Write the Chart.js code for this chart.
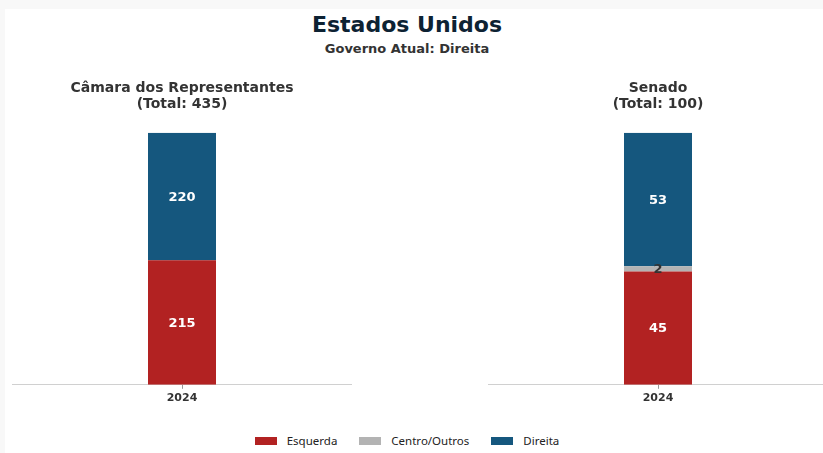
<!DOCTYPE html>
<html lang="pt">
<head>
<meta charset="utf-8">
<script src="https://cdn.jsdelivr.net/npm/chart.js@4"></script>
<style>
  html, body { margin: 0; padding: 0; overflow: hidden; }
  body { width: 823px; height: 453px; background: #f8f8f8; position: relative; font-family: "DejaVu Sans", sans-serif; }
  #panel { position: absolute; left: 5px; top: 9px; right: 0; bottom: 0; background: #fff; }
  .center { position: absolute; left: 0; width: 814px; text-align: center; }
  #titulo { top: 12px; font-size: 22px; font-weight: bold; color: #0d2233; }
  #subtitulo { top: 41px; font-size: 13px; font-weight: bold; color: #333; }
  canvas { position: absolute; }
  #legenda { top: 433px; display: flex; justify-content: center; gap: 22px; font-family: "Noto Sans", sans-serif; font-size: 11.5px; color: #222; }
  #legenda span.item { display: flex; align-items: center; }
  #legenda span.box { display: inline-block; width: 22px; height: 8px; margin-right: 10px; }
</style>
</head>
<body>
<div id="panel"></div>
<div id="titulo" class="center">Estados Unidos</div>
<div id="subtitulo" class="center">Governo Atual: Direita</div>
<canvas id="camara" width="340" height="331" style="left:12px; top:77px;"></canvas>
<canvas id="senado" width="340" height="331" style="left:488px; top:77px;"></canvas>
<div id="legenda" class="center"></div>
<script>
const anos = ['2024'];
const partidos = ['Esquerda', 'Centro/Outros', 'Direita'];
const cores = ['#b22222', '#b3b3b3', '#15577e'];
const corRotulo = ['#ffffff', '#333333', '#ffffff'];

const camaraAssentos = [215, 0, 220];
const camaraTotal = 435;
const senadoAssentos = [45, 2, 53];
const senadoTotal = 100;

// escreve o número de assentos no meio de cada segmento
const rotulosValores = {
  id: 'rotulosValores',
  afterDatasetsDraw(chart) {
    const ctx = chart.ctx;
    ctx.save();
    ctx.font = 'bold 13px "DejaVu Sans"';
    ctx.textAlign = 'center';
    ctx.textBaseline = 'middle';
    chart.data.datasets.forEach((ds, i) => {
      const meta = chart.getDatasetMeta(i);
      meta.data.forEach((bar, j) => {
        const v = ds.data[j];
        if (!v) return;
        ctx.fillStyle = corRotulo[i];
        ctx.fillText(String(v), bar.x, (bar.y + bar.base) / 2 + 1);
      });
    });
    ctx.restore();
  }
};

function criarGrafico(id, titulo, valores, total) {
  return new Chart(document.getElementById(id), {
    type: 'bar',
    data: {
      labels: anos,
      datasets: partidos.map((nome, i) => ({
        label: nome,
        data: [valores[i]],
        backgroundColor: cores[i],
        borderWidth: 0,
        categoryPercentage: 1,
        barPercentage: 0.2
      }))
    },
    options: {
      responsive: false,
      animation: false,
      layout: { padding: 0 },
      plugins: {
        legend: { display: false },
        tooltip: { enabled: false },
        title: {
          display: true,
          text: titulo,
          color: '#333',
          font: { family: 'DejaVu Sans', size: 14, weight: 'bold', lineHeight: 1.1 },
          padding: { top: 4, bottom: 21 }
        }
      },
      scales: {
        x: {
          stacked: true,
          grid: { display: true, drawOnChartArea: false, offset: false, tickLength: 4, color: '#999' },
          border: { display: true, color: '#d0d0d0' },
          ticks: { color: '#333', padding: 3, font: { family: 'DejaVu Sans', size: 11, weight: 'bold' } }
        },
        y: { stacked: true, display: false, min: 0, max: total }
      }
    },
    plugins: [rotulosValores]
  });
}

criarGrafico('camara', ['Câmara dos Representantes', '(Total: ' + camaraTotal + ')'], camaraAssentos, camaraTotal);
criarGrafico('senado', ['Senado', '(Total: ' + senadoTotal + ')'], senadoAssentos, senadoTotal);

// legenda comum aos dois gráficos
const legenda = document.getElementById('legenda');
partidos.forEach((nome, i) => {
  const item = document.createElement('span');
  item.className = 'item';
  const box = document.createElement('span');
  box.className = 'box';
  box.style.background = cores[i];
  item.appendChild(box);
  item.appendChild(document.createTextNode(nome));
  legenda.appendChild(item);
});
</script>
</body>
</html>
